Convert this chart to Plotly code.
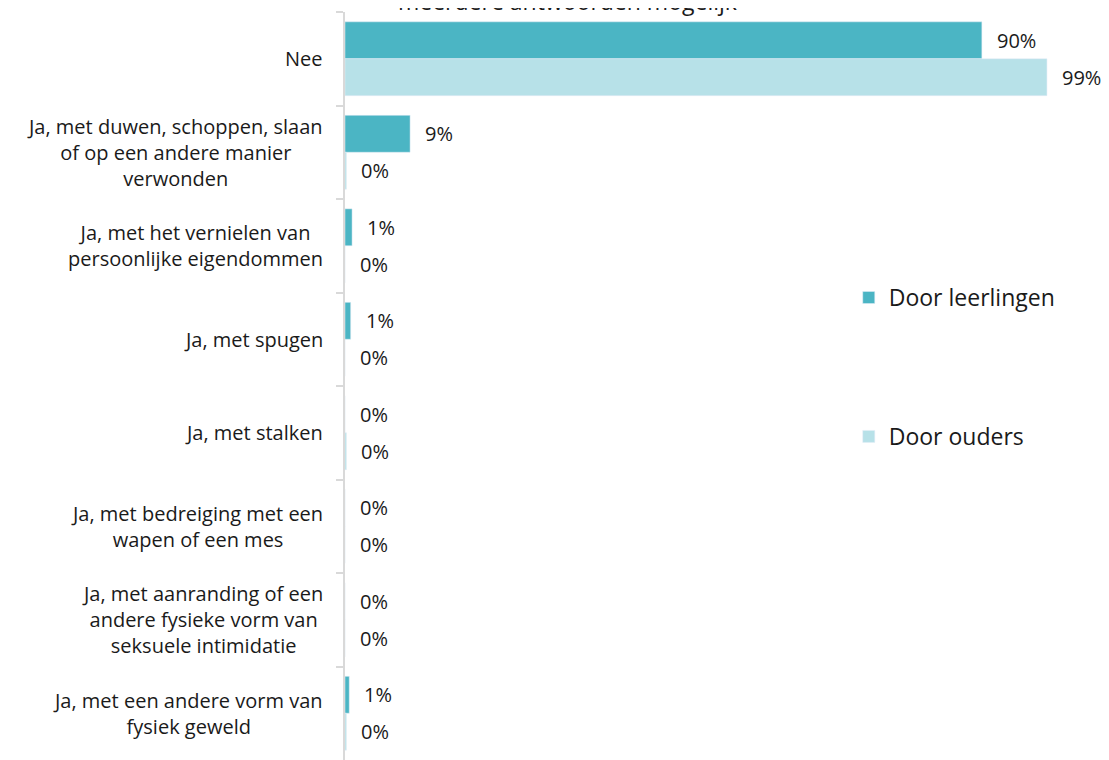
import plotly.graph_objects as go

categories = [
    "Nee",
    "Ja, met duwen, schoppen, slaan<br>of op een andere manier<br>verwonden",
    "Ja, met het vernielen van<br>persoonlijke eigendommen",
    "Ja, met spugen",
    "Ja, met stalken",
    "Ja, met bedreiging met een<br>wapen of een mes",
    "Ja, met aanranding of een<br>andere fysieke vorm van<br>seksuele intimidatie",
    "Ja, met een andere vorm van<br>fysiek geweld",
]
leerlingen = [90, 9.2, 1.0, 0.8, 0.0, 0.0, 0.0, 0.6]
leerlingen_text = ["90%", "9%", "1%", "1%", "0%", "0%", "0%", "1%"]
ouders = [99.2, 0.2, 0.0, 0.0, 0.2, 0.0, 0.0, 0.2]
ouders_text = ["99%", "0%", "0%", "0%", "0%", "0%", "0%", "0%"]
series_names = ["Door leerlingen", "Door ouders"]
subtitle = "meerdere antwoorden mogelijk"

DARK = "#4BB5C4"
LIGHT = "#B7E1E8"
FONT = "Open Sans"
TXT = "#1a1a1a"

fig = go.Figure()
fig.add_trace(go.Bar(y=categories, x=leerlingen, orientation="h", name=series_names[0],
                     marker_color=DARK, legendgroup="a", hoverinfo="skip"))
fig.add_trace(go.Bar(y=categories, x=ouders, orientation="h", name=series_names[1],
                     marker_color=LIGHT, legendgroup="b", hoverinfo="skip"))

# data labels
for vals, texts, off in [(leerlingen, leerlingen_text, -0.2), (ouders, ouders_text, 0.2)]:
    for i, (v, t) in enumerate(zip(vals, texts)):
        fig.add_annotation(x=v, y=i + off, xref="x", yref="y", text=t, showarrow=False,
                           xanchor="left", yanchor="middle", xshift=13,
                           font=dict(family=FONT, size=20, color=TXT))

# category labels (centered multi-line)
for i, c in enumerate(categories):
    fig.add_annotation(x=0, y=i, xref="paper", yref="y", text=c, showarrow=False,
                       xanchor="right", yanchor="middle", align="center", xshift=-20,
                       font=dict(family=FONT, size=20, color=TXT))

# clipped subtitle at the top
fig.add_annotation(x=(567 - 345) / 743, y=1, xref="paper", yref="paper", text=subtitle,
                   showarrow=False, xanchor="center", yanchor="middle", yshift=11,
                   font=dict(family=FONT, size=23, color=TXT))

fig.update_layout(
    width=1101, height=752,
    margin=dict(l=337, r=21, t=4, b=0),
    paper_bgcolor="white", plot_bgcolor="white",
    barmode="group", bargap=0.21, bargroupgap=0,
    font=dict(family=FONT, size=20, color=TXT),
    showlegend=True,
    legend=dict(x=0.678, y=0.647, xanchor="left", yanchor="top", traceorder="grouped",
                tracegroupgap=106, font=dict(family=FONT, size=23, color=TXT),
                itemwidth=30, bgcolor="rgba(0,0,0,0)"),
    xaxis=dict(range=[0, 105], visible=False, showgrid=False, zeroline=False),
    yaxis=dict(autorange="reversed", type="category", showticklabels=False,
               showline=True, linecolor="#D9D9D9", linewidth=2,
               ticks="outside", tickcolor="#D9D9D9", ticklen=7, tickwidth=2,
               tickson="boundaries", showgrid=False, zeroline=False),
)

fig.write_html("out.html")
